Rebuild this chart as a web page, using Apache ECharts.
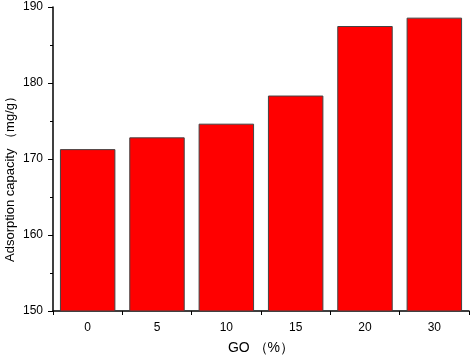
<!DOCTYPE html>
<html>
<head>
<meta charset="utf-8">
<script src="https://cdn.jsdelivr.net/npm/echarts@6/dist/echarts.min.js"></script>
<style>
    html, body { margin: 0; padding: 0; background: #fff; }
    #chart { width: 472px; height: 357px; }
</style>
</head>
<body>
<div id="chart"></div>
<script>
// GO content (%) categories
const goLevels = ['0', '5', '10', '15', '20', '30'];
// adsorption capacity (mg/g)
const capacity = [171.3, 172.85, 174.65, 178.35, 187.5, 188.6];
const yMin = 150;
const yMax = 190;
const yStep = 10;

const chart = echarts.init(document.getElementById('chart'));
const font = 'Liberation Sans, Arial, sans-serif';

chart.setOption({
    animation: false,
    grid: { left: 53, right: 3, top: 7, bottom: 46, outerBoundsMode: 'none' },
    xAxis: {
        type: 'category',
        data: goLevels,
        name: 'GO （%）',
        nameLocation: 'middle',
        nameGap: 30,
        nameMoveOverlap: false,
        nameTextStyle: { fontFamily: font, fontSize: 14, color: '#000' },
        axisLine: { lineStyle: { color: '#000', width: 1.5 } },
        axisTick: { show: true, length: 4, inside: false, alignWithLabel: false, lineStyle: { color: '#000' } },
        axisLabel: { margin: 11, fontFamily: font, fontSize: 12, color: '#000' }
    },
    yAxis: {
        type: 'value',
        min: yMin,
        max: yMax,
        interval: yStep,
        name: 'Adsorption capacity （mg/g）',
        nameLocation: 'middle',
        nameGap: 36,
        nameMoveOverlap: false,
        nameTextStyle: { fontFamily: font, fontSize: 13, color: '#000', padding: [0, 34, 0, 0] },
        axisLine: { show: true, lineStyle: { color: '#000', width: 1.5 } },
        axisTick: { show: true, length: 5, lineStyle: { color: '#000' } },
        minorTick: { show: true, splitNumber: 2, length: 3, lineStyle: { color: '#000' } },
        splitLine: { show: false },
        axisLabel: { margin: 10, fontFamily: font, fontSize: 12, color: '#000' }
    },
    series: [{
        type: 'bar',
        data: capacity,
        barCategoryGap: '20%',
        itemStyle: { color: '#ff0000', borderColor: '#444', borderWidth: 1 }
    }]
});
</script>
</body>
</html>
